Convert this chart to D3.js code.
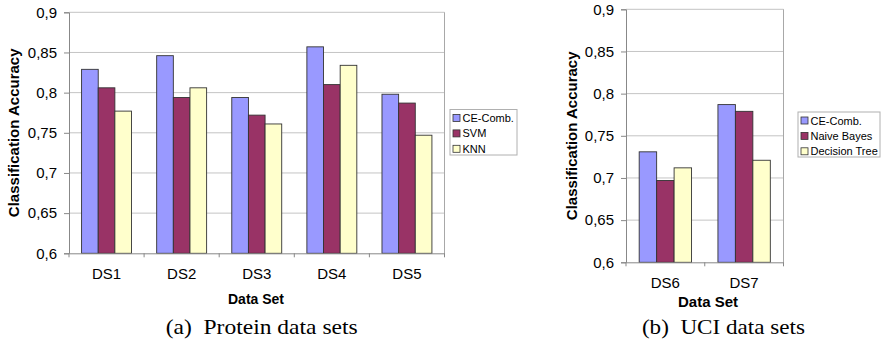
<!DOCTYPE html>
<html>
<head>
<meta charset="utf-8">
<script src="https://cdn.jsdelivr.net/npm/d3@7"></script>
<style>
  body { margin: 0; background: #fff; }
</style>
</head>
<body>
<div id="vis-holder"></div>
<script>
// Data
const seriesA = ["CE-Comb.", "SVM", "KNN"];
const categoriesA = ["DS1", "DS2", "DS3", "DS4", "DS5"];
const ceCombA = [0.829, 0.846, 0.794, 0.857, 0.798];
const svmA    = [0.806, 0.794, 0.772, 0.810, 0.787];
const knnA    = [0.777, 0.806, 0.761, 0.834, 0.747];

const seriesB = ["CE-Comb.", "Naive Bayes", "Decision Tree"];
const categoriesB = ["DS6", "DS7"];
const ceCombB = [0.731, 0.787];
const bayesB  = [0.697, 0.779];
const treeB   = [0.712, 0.721];

const yTicks = [0.6, 0.65, 0.7, 0.75, 0.8, 0.85, 0.9];
const colors = ["#9999ff", "#993366", "#ffffcc"];

const sans = "Liberation Sans, Arial, sans-serif";
const serif = "Liberation Serif, Times New Roman, serif";

const width = 881;
const height = 344;

const svg = d3.select("#vis-holder")
              .append("svg")
              .attr("width", width)
              .attr("height", height)
              .style("font-family", sans);

// One bar chart panel, Excel style
function drawPanel(opt) {
  const g = svg.append("g");

  const y = d3.scaleLinear()
              .domain([0.6, 0.9])
              .range([opt.bottom, opt.top]);

  const x = d3.scaleBand()
              .domain(opt.categories)
              .range([opt.left, opt.right])
              .paddingInner(0.335)
              .paddingOuter(0.1675);

  const xs = d3.scaleBand()
               .domain(opt.series)
               .range([0, x.bandwidth()]);

  // gridlines
  g.append("g")
   .selectAll("line")
   .data(yTicks.slice(1))
   .enter()
     .append("line")
     .attr("x1", opt.left)
     .attr("x2", opt.right)
     .attr("y1", (d) => y(d))
     .attr("y2", (d) => y(d))
     .attr("stroke", "#c4c4c4")
     .attr("stroke-width", 1);

  // plot border on the right
  g.append("line")
   .attr("x1", opt.right).attr("x2", opt.right)
   .attr("y1", opt.top).attr("y2", opt.bottom)
   .attr("stroke", "#a8a8a8");

  // bars
  const rows = opt.categories.map((c, i) => ({
    cat: c,
    vals: opt.values.map((v, j) => ({ s: opt.series[j], v: v[i], c: colors[j] }))
  }));

  g.selectAll(".grp")
   .data(rows)
   .enter()
     .append("g")
     .attr("transform", (d) => `translate(${x(d.cat)},0)`)
     .selectAll("rect")
     .data((d) => d.vals)
     .enter()
       .append("rect")
       .attr("x", (d) => xs(d.s))
       .attr("y", (d) => y(d.v))
       .attr("width", xs.bandwidth())
       .attr("height", (d) => opt.bottom - y(d.v))
       .attr("fill", (d) => d.c)
       .attr("stroke", "#333")
       .attr("stroke-width", 0.9);

  // y axis
  const yAxis = g.append("g")
                 .attr("transform", `translate(${opt.left},0)`)
                 .call(d3.axisLeft(y).tickValues(yTicks).tickSize(5).tickPadding(7)
                         .tickFormat((d) => d3.format(".2~f")(d).replace(".", ",")));
  yAxis.select(".domain").attr("stroke", "#888");
  yAxis.selectAll(".tick line").attr("stroke", "#888");
  yAxis.selectAll("text")
       .style("font-size", "15px")
       .style("font-family", sans)
       .attr("fill", "#000");

  // x axis, ticks sit between the categories
  const xAxis = g.append("g")
                 .attr("transform", `translate(0,${opt.bottom})`)
                 .call(d3.axisBottom(x).tickSize(0).tickPadding(opt.xPad));
  xAxis.select(".domain").attr("stroke", "#888");
  xAxis.selectAll("text")
       .style("font-size", "15px")
       .style("font-family", sans)
       .attr("fill", "#000");
  const step = x.step();
  xAxis.selectAll(".sep")
       .data(d3.range(opt.categories.length + 1))
       .enter()
         .append("line")
         .attr("x1", (i) => opt.left + i * step)
         .attr("x2", (i) => opt.left + i * step)
         .attr("y1", 0)
         .attr("y2", 4)
         .attr("stroke", "#888");

  // axis titles
  g.append("text")
   .attr("transform", `translate(${opt.yTitleX},${(opt.top + opt.bottom) / 2}) rotate(-90)`)
   .attr("text-anchor", "middle")
   .attr("dominant-baseline", "central")
   .style("font-size", "15px")
   .style("font-weight", "bold")
   .text("Classification Accuracy");

  g.append("text")
   .attr("x", opt.xTitleX)
   .attr("y", opt.xTitleY)
   .attr("text-anchor", "middle")
   .style("font-size", opt.xTitleSize)
   .style("font-weight", "bold")
   .text("Data Set");

  // legend
  const lg = g.append("g").attr("transform", `translate(${opt.legX},${opt.legY})`);
  lg.append("rect")
    .attr("width", opt.legW)
    .attr("height", opt.legH)
    .attr("fill", "#fff")
    .attr("stroke", "#b0b0b0");
  lg.selectAll(".item")
    .data(opt.series)
    .enter()
      .append("g")
      .attr("transform", (d, i) => `translate(3,${8.5 + i * 15.4})`)
      .call((s) => s.append("rect")
                    .attr("x", 0).attr("y", -3.5)
                    .attr("width", 7).attr("height", 7)
                    .attr("fill", (d, i) => colors[i])
                    .attr("stroke", "#333")
                    .attr("stroke-width", 0.8))
      .call((s) => s.append("text")
                    .attr("x", 9.5)
                    .attr("y", 0)
                    .attr("dominant-baseline", "central")
                    .style("font-size", "11px")
                    .text((d) => d));

  // caption
  svg.append("text")
     .attr("x", opt.capX)
     .attr("y", 334)
     .attr("text-anchor", "middle")
     .style("font-family", serif)
     .style("font-size", "21px")
     .attr("textLength", opt.capW)
     .attr("lengthAdjust", "spacingAndGlyphs")
     .style("white-space", "pre")
     .text(opt.caption);
}

// (a) Protein data sets
drawPanel({
  categories: categoriesA, series: seriesA, values: [ceCombA, svmA, knnA],
  left: 69, right: 444.5, top: 12.3, bottom: 253.3,
  xPad: 15, yTitleX: 13,
  xTitleX: 256, xTitleY: 304, xTitleSize: "14px",
  legX: 450, legY: 109.5, legW: 67, legH: 45.5,
  capX: 261.7, capW: 192, caption: "(a)  Protein data sets"
});

// (b) UCI data sets
drawPanel({
  categories: categoriesB, series: seriesB, values: [ceCombB, bayesB, treeB],
  left: 626, right: 783.5, top: 9.3, bottom: 262.3,
  xPad: 15, yTitleX: 571.7,
  xTitleX: 708, xTitleY: 306.5, xTitleSize: "15px",
  legX: 798, legY: 112, legW: 82, legH: 45,
  capX: 723.4, capW: 163, caption: "(b)  UCI data sets"
});
</script>
</body>
</html>
